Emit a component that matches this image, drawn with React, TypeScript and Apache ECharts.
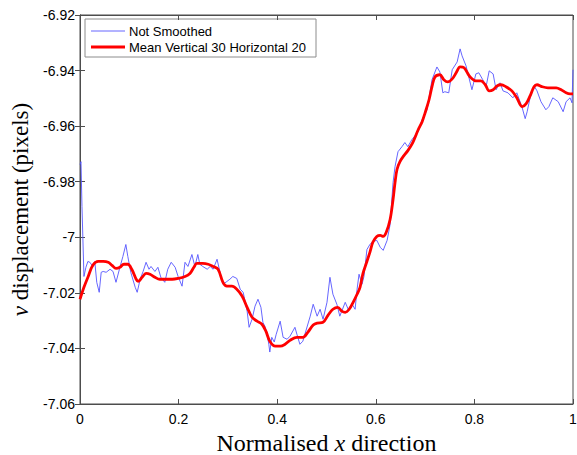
import React, { useEffect, useRef } from "react";
import * as echarts from "echarts";

const xTicks = [0, 0.2, 0.4, 0.6, 0.8, 1];
const yTicks = [-7.06, -7.04, -7.02, -7, -6.98, -6.96, -6.94, -6.92];

const blueX = [0, 0.002, 0.004, 0.008, 0.012, 0.016, 0.02, 0.026, 0.03, 0.034, 0.039, 0.043, 0.047, 0.053, 0.061, 0.067, 0.073, 0.081, 0.087, 0.093, 0.097, 0.103, 0.112, 0.116, 0.122, 0.128, 0.134, 0.14, 0.144, 0.152, 0.158, 0.164, 0.172, 0.178, 0.185, 0.193, 0.199, 0.207, 0.213, 0.219, 0.227, 0.233, 0.239, 0.243, 0.249, 0.258, 0.264, 0.27, 0.278, 0.284, 0.29, 0.298, 0.304, 0.31, 0.318, 0.325, 0.331, 0.339, 0.343, 0.349, 0.355, 0.361, 0.367, 0.371, 0.375, 0.379, 0.383, 0.385, 0.389, 0.394, 0.398, 0.406, 0.412, 0.42, 0.426, 0.436, 0.44, 0.446, 0.452, 0.467, 0.473, 0.481, 0.487, 0.493, 0.501, 0.507, 0.513, 0.521, 0.527, 0.538, 0.544, 0.552, 0.558, 0.562, 0.566, 0.572, 0.576, 0.582, 0.588, 0.594, 0.602, 0.609, 0.615, 0.623, 0.629, 0.635, 0.639, 0.645, 0.653, 0.659, 0.665, 0.673, 0.686, 0.694, 0.704, 0.714, 0.724, 0.73, 0.736, 0.74, 0.748, 0.755, 0.765, 0.771, 0.775, 0.783, 0.789, 0.795, 0.803, 0.809, 0.817, 0.824, 0.83, 0.838, 0.844, 0.852, 0.858, 0.868, 0.878, 0.886, 0.897, 0.903, 0.907, 0.913, 0.921, 0.927, 0.935, 0.945, 0.951, 0.959, 0.97, 0.98, 0.986, 0.994, 0.998, 1];
const blueY = [-6.9738, -6.9728, -6.9889, -7.0141, -7.0108, -7.0087, -7.009, -7.0105, -7.0087, -7.0162, -7.0198, -7.0126, -7.0123, -7.0126, -7.0115, -7.0123, -7.0162, -7.0108, -7.0069, -7.0026, -7.0069, -7.0126, -7.018, -7.0198, -7.0151, -7.0123, -7.009, -7.0115, -7.0105, -7.0123, -7.0108, -7.0144, -7.0162, -7.0115, -7.009, -7.0108, -7.0141, -7.0176, -7.009, -7.0105, -7.0062, -7.0105, -7.0062, -7.0097, -7.0105, -7.0115, -7.0105, -7.0115, -7.0079, -7.0126, -7.0169, -7.0159, -7.0151, -7.0141, -7.0148, -7.0187, -7.0198, -7.0266, -7.0324, -7.0295, -7.0248, -7.0223, -7.0252, -7.0306, -7.032, -7.0342, -7.0385, -7.0413, -7.036, -7.0377, -7.0349, -7.0302, -7.036, -7.0367, -7.0356, -7.0324, -7.0349, -7.0385, -7.0374, -7.0284, -7.0241, -7.0284, -7.0259, -7.0295, -7.0234, -7.0144, -7.0205, -7.0241, -7.0284, -7.0234, -7.0259, -7.0241, -7.0259, -7.0187, -7.0133, -7.0169, -7.0141, -7.0044, -7.0026, -7.0015, -7.0011, -7.0036, -7.0047, -7.0011, -6.9954, -6.9803, -6.9746, -6.9692, -6.9674, -6.9659, -6.9674, -6.9649, -6.962, -6.9577, -6.9541, -6.9433, -6.9387, -6.9405, -6.948, -6.9476, -6.948, -6.9397, -6.9369, -6.9322, -6.9347, -6.9383, -6.9426, -6.9469, -6.9412, -6.9408, -6.9433, -6.9455, -6.9401, -6.9412, -6.9469, -6.9444, -6.9473, -6.948, -6.9498, -6.948, -6.9534, -6.9573, -6.9548, -6.9498, -6.9455, -6.9473, -6.9512, -6.9541, -6.953, -6.9498, -6.9512, -6.9548, -6.9512, -6.9498, -6.9516, -6.9397];

const redX = [0, 0.008, 0.016, 0.026, 0.037, 0.047, 0.057, 0.065, 0.073, 0.081, 0.089, 0.097, 0.105, 0.114, 0.118, 0.126, 0.134, 0.142, 0.152, 0.162, 0.172, 0.187, 0.199, 0.213, 0.223, 0.231, 0.237, 0.249, 0.26, 0.27, 0.28, 0.29, 0.298, 0.308, 0.318, 0.329, 0.339, 0.349, 0.359, 0.369, 0.377, 0.385, 0.396, 0.406, 0.416, 0.426, 0.44, 0.452, 0.462, 0.473, 0.481, 0.493, 0.503, 0.513, 0.523, 0.531, 0.538, 0.546, 0.554, 0.562, 0.568, 0.574, 0.582, 0.588, 0.594, 0.602, 0.609, 0.615, 0.621, 0.629, 0.635, 0.639, 0.643, 0.649, 0.657, 0.665, 0.675, 0.686, 0.694, 0.7, 0.708, 0.714, 0.72, 0.73, 0.738, 0.746, 0.755, 0.763, 0.771, 0.779, 0.787, 0.793, 0.803, 0.813, 0.822, 0.83, 0.838, 0.846, 0.854, 0.864, 0.876, 0.886, 0.897, 0.905, 0.913, 0.921, 0.927, 0.937, 0.949, 0.966, 0.976, 0.986, 0.994, 1];
const redY = [-7.0223, -7.018, -7.0144, -7.0101, -7.0087, -7.0087, -7.009, -7.0101, -7.0112, -7.0108, -7.0097, -7.0097, -7.0115, -7.0151, -7.0159, -7.0144, -7.013, -7.0133, -7.0144, -7.0151, -7.0151, -7.0151, -7.0148, -7.0141, -7.013, -7.0108, -7.0094, -7.0094, -7.0097, -7.0105, -7.0115, -7.0162, -7.0176, -7.0176, -7.0187, -7.0212, -7.0252, -7.0288, -7.0302, -7.0313, -7.0338, -7.0374, -7.0392, -7.0392, -7.0385, -7.0371, -7.036, -7.036, -7.0342, -7.0316, -7.0309, -7.0306, -7.0281, -7.0259, -7.0252, -7.0266, -7.027, -7.0259, -7.0234, -7.0205, -7.018, -7.013, -7.0087, -7.0054, -7.0018, -6.9997, -6.9993, -6.9997, -6.9983, -6.9936, -6.9864, -6.9803, -6.9756, -6.9728, -6.9706, -6.9688, -6.9659, -6.9613, -6.9584, -6.9552, -6.9505, -6.9458, -6.9423, -6.9415, -6.9433, -6.9441, -6.943, -6.9408, -6.9387, -6.939, -6.9412, -6.9426, -6.9437, -6.9437, -6.9451, -6.9473, -6.9469, -6.9455, -6.9451, -6.9458, -6.9473, -6.9498, -6.953, -6.9519, -6.9491, -6.9458, -6.9451, -6.9458, -6.9462, -6.9462, -6.9469, -6.948, -6.9484, -6.9484];

const seriesNames = ["Not Smoothed", "Mean Vertical 30 Horizontal 20"];
const seriesColors = ["#5555ff", "#ff0000"];
const seriesWidths = [0.9, 2.8];

const sans = "'Liberation Sans', Arial, sans-serif";
const serif = "'Liberation Serif', 'Times New Roman', serif";

export default function App() {
  const ref = useRef<HTMLDivElement>(null);
  useEffect(() => {
    document.body.style.margin = "0";
    if (!ref.current) return;
    const chart = echarts.init(ref.current, undefined, { renderer: "svg" });
    const fmtX = (v: number) => (v === 0 ? "0" : v === 1 ? "1" : v.toFixed(1));
    const fmtY = (v: number) => String(parseFloat(v.toFixed(2)));
    const axisLine = { show: true, lineStyle: { color: "#4d4d4d", width: 1 } };
    const tick = { show: true, inside: true, length: 5, lineStyle: { color: "#4d4d4d" } };

    const legendX = 85;
    const legendY = 19;
    const legendChildren: any[] = [
      {
        type: "rect",
        shape: { x: legendX, y: legendY, width: 231, height: 38 },
        style: { fill: "#fff", stroke: "#8c8c8c", lineWidth: 1 },
      },
    ];
    seriesNames.forEach((name, i) => {
      const cy = legendY + 12 + i * 16;
      legendChildren.push({
        type: "line",
        shape: { x1: legendX + 6, y1: cy, x2: legendX + 40, y2: cy },
        style: { stroke: seriesColors[i], lineWidth: seriesWidths[i] },
      });
      legendChildren.push({
        type: "text",
        x: legendX + 44,
        y: cy,
        style: { text: name, fontFamily: sans, fontSize: 13, fill: "#000", verticalAlign: "middle", align: "left" },
      });
    });

    chart.setOption({
      animation: false,
      backgroundColor: "#fff",
      grid: {
        left: 80,
        right: 4,
        top: 15,
        bottom: 51,
        show: true,
        borderColor: "#4d4d4d",
        borderWidth: 1,
        outerBoundsMode: "none",
        containLabel: false,
      },
      graphic: [{ type: "group", z: 100, children: legendChildren }],
      xAxis: [
        {
          type: "value",
          min: 0,
          max: 1,
          interval: 0.2,
          position: "bottom",
          axisLine,
          axisTick: tick,
          splitLine: { show: false },
          axisLabel: { formatter: fmtX, fontFamily: sans, fontSize: 14, color: "#000", margin: 8 },
          name: "Normalised {i|x} direction",
          nameLocation: "middle",
          nameGap: 24,
          nameTextStyle: {
            fontFamily: serif,
            fontSize: 24,
            color: "#000",
            rich: { i: { fontFamily: serif, fontSize: 24, fontStyle: "italic", color: "#000" } },
          },
        },
        {
          type: "value",
          min: 0,
          max: 1,
          interval: 0.2,
          position: "top",
          axisLine,
          axisTick: tick,
          splitLine: { show: false },
          axisLabel: { show: false },
        },
      ],
      yAxis: [
        {
          type: "value",
          min: -7.06,
          max: -6.92,
          interval: 0.02,
          position: "left",
          axisLine,
          axisTick: tick,
          splitLine: { show: false },
          axisLabel: { formatter: fmtY, fontFamily: sans, fontSize: 14, color: "#000", margin: 5 },
          name: "{i|v} displacement (pixels)",
          nameLocation: "middle",
          nameGap: 35,
          nameTextStyle: {
            fontFamily: serif,
            fontSize: 23,
            color: "#000",
            rich: { i: { fontFamily: serif, fontSize: 23, fontStyle: "italic", color: "#000" } },
          },
        },
        {
          type: "value",
          min: -7.06,
          max: -6.92,
          interval: 0.02,
          position: "right",
          axisLine,
          axisTick: tick,
          splitLine: { show: false },
          axisLabel: { show: false },
        },
      ],
      series: [
        {
          name: seriesNames[0],
          type: "line",
          showSymbol: false,
          symbol: "none",
          data: blueX.map((x, i) => [x, blueY[i]]),
          lineStyle: { color: seriesColors[0], width: seriesWidths[0] },
          itemStyle: { color: seriesColors[0] },
          z: 2,
        },
        {
          name: seriesNames[1],
          type: "line",
          showSymbol: false,
          symbol: "none",
          smooth: 0.35,
          data: redX.map((x, i) => [x, redY[i]]),
          lineStyle: { color: seriesColors[1], width: seriesWidths[1] },
          itemStyle: { color: seriesColors[1] },
          z: 3,
        },
      ],
    });
    return () => chart.dispose();
  }, []);
  return <div ref={ref} style={{ width: 577, height: 455 }} />;
}
